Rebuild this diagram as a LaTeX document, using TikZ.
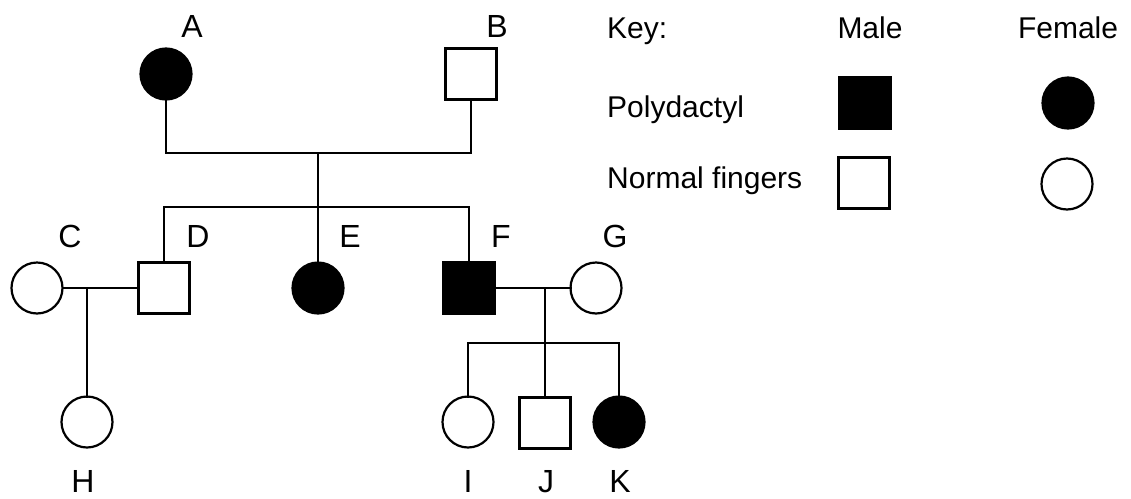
\documentclass[tikz,border=0pt]{standalone}
\usepackage{fontspec}
\setmainfont{Liberation Sans}
\begin{document}
\begin{tikzpicture}[x=1pt,y=-1pt,
  person/.style={draw=black,line width=2.2pt,inner sep=0pt,outer sep=0pt},
  male/.style={person,rectangle,minimum size=51pt,fill=white},
  female/.style={person,circle,minimum size=51pt,fill=white},
  aff/.style={fill=black},
  ln/.style={line width=2pt,line cap=rect},
  lbl/.style={anchor=base,inner sep=0pt,font=\fontsize{32}{36}\selectfont},
  keytxt/.style={anchor=base west,inner sep=0pt,font=\fontsize{30}{36}\selectfont},
  keyhead/.style={anchor=base,inner sep=0pt,font=\fontsize{30}{36}\selectfont}]
\useasboundingbox[fill=white] (0,0) rectangle (1131,498);
% generation I
\node[female,aff] (A) at (166,74) {};
\node[male] (B) at (471,74) {};
% generation II
\node[female] (C) at (37,288) {};
\node[male] (D) at (164,288) {};
\node[female,aff] (E) at (318,288) {};
\node[male,aff] (F) at (469,288) {};
\node[female] (G) at (596,288) {};
% generation III
\node[female] (H) at (87,422) {};
\node[female] (I) at (468,422) {};
\node[male] (J) at (545,423) {};
\node[female,aff] (K) at (619,422) {};
% junctions
\coordinate (m1) at (318,153);
\coordinate (s1) at (318,207);
\coordinate (cd) at (87,288);
\coordinate (fg) at (545,288);
\coordinate (s2) at (545,343);
% connectors
\draw[ln] (A.south) |- (m1) -| (B.south);
\draw[ln] (m1) -- (s1);
\draw[ln] (D.north) |- (s1) -| (F.north);
\draw[ln] (s1) -- (E.north);
\draw[ln] (C.east) -- (D.west);
\draw[ln] (cd) -- (H.north);
\draw[ln] (F.east) -- (G.west);
\draw[ln] (fg) -- (s2);
\draw[ln] (I.north) |- (s2) -| (K.north);
\draw[ln] (s2) -- (J.north);
% labels
\node[lbl] (lA) at (192,37) {A};
\node[lbl] (lB) at (497,37) {B};
\node[lbl] (lC) at (70,247) {C};
\node[lbl] (lD) at (198,247) {D};
\node[lbl] (lE) at (350,247) {E};
\node[lbl] (lF) at (501,247) {F};
\node[lbl] (lG) at (615,247) {G};
\node[lbl] (lH) at (83,492) {H};
\node[lbl] (lI) at (468,492) {I};
\node[lbl] (lJ) at (546,492) {J};
\node[lbl] (lK) at (620,492) {K};
% key
\node[keytxt] (kkey) at (607,38) {Key:};
\node[keyhead] (kmale) at (870,38) {Male};
\node[keyhead] (kfemale) at (1068,38) {Female};
\node[keytxt] (kpoly) at (607,117) {Polydactyl};
\node[keytxt] (knorm) at (607,188) {Normal fingers};
\node[male,aff] (kms) at (865,103) {};
\node[female,aff] (kfs) at (1068,103) {};
\node[male] (kmn) at (864,183) {};
\node[female] (kfn) at (1067,184) {};
\end{tikzpicture}
\end{document}
